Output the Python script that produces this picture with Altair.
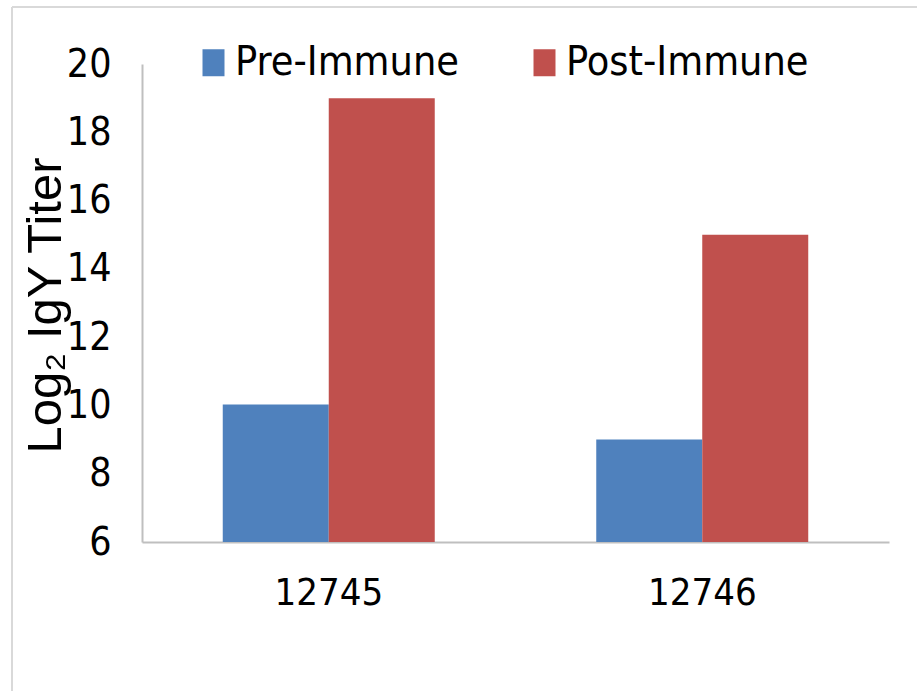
import altair as alt
import pandas as pd

# Log2 IgY titers per bird, before and after immunisation
samples = ["12745", "12746"]
phases = ["Pre-Immune", "Post-Immune"]
pre_titer = [10.03, 9.0]
post_titer = [19.0, 15.0]
colors = ["#4F81BD", "#C0504D"]

rows = []
for s, pre, post in zip(samples, pre_titer, post_titer):
    rows.append({"sample": s, "phase": phases[0], "titer": pre})
    rows.append({"sample": s, "phase": phases[1], "titer": post})
df = pd.DataFrame(rows)

NARROW = "DejaVu Sans Condensed, Liberation Sans Narrow, sans-serif"
W, H = 747, 478

# slightly tall rectangle used as legend swatch
SWATCH = "M-1,-1.227L1,-1.227L1,1.227L-1,1.227Z"

bars = alt.Chart(df).mark_bar(clip=True).encode(
    x=alt.X(
        "sample:N",
        sort=samples,
        title=None,
        scale=alt.Scale(paddingInner=0.4324, paddingOuter=0.2162),
        axis=alt.Axis(
            labelAngle=0,
            labelFont=NARROW,
            labelFontSize=38,
            labelColor="black",
            labelBaseline="top",
            labelPadding=32,
            ticks=False,
            domainColor="#BFBFBF",
            domainWidth=2,
        ),
    ),
    xOffset=alt.XOffset("phase:N", sort=phases, scale=alt.Scale(paddingInner=0, paddingOuter=0)),
    y=alt.Y(
        "titer:Q",
        title="Log₂ IgY Titer",
        scale=alt.Scale(domain=[6, 20], zero=False, nice=False),
        axis=alt.Axis(
            values=[6, 8, 10, 12, 14, 16, 18, 20],
            grid=False,
            ticks=False,
            labelFont=NARROW,
            labelFontSize=39,
            labelColor="black",
            labelPadding=31,
            domainColor="#BFBFBF",
            domainWidth=2,
            titleFont="Liberation Sans, Arial, sans-serif",
            titleFontSize=49,
            titleFontWeight="normal",
            titleColor="black",
            titleAngle=270,
            titleAlign="center",
            titleBaseline="middle",
            titleX=-97,
            titleY=H / 2 + 2,
        ),
    ),
    y2=alt.datum(6),
    color=alt.Color(
        "phase:N",
        sort=phases,
        scale=alt.Scale(domain=phases, range=colors),
        legend=alt.Legend(
            title=None,
            orient="none",
            legendX=51,
            legendY=-22,
            direction="horizontal",
            symbolType=SWATCH,
            symbolSize=484,
            symbolStrokeWidth=0,
            labelFont=NARROW,
            labelFontSize=41,
            labelColor="black",
            labelOffset=1,
            labelLimit=400,
            columnPadding=65,
            padding=0,
        ),
    ),
)

# light frame around the chart (left and top edges)
frame_df = pd.DataFrame({"k": [0]})
frame_left = alt.Chart(frame_df).mark_rule(color="#D9D9D9", strokeWidth=2).encode(
    x=alt.value(-130), y=alt.value(-57), y2=alt.value(H + 200)
)
frame_top = alt.Chart(frame_df).mark_rule(color="#D9D9D9", strokeWidth=2).encode(
    x=alt.value(-130), x2=alt.value(W + 100), y=alt.value(-57)
)

chart = alt.layer(frame_left, frame_top, bars).properties(
    width=W,
    height=H,
    autosize=alt.AutoSizeParams(type="none"),
    padding={"left": 142, "top": 64, "right": 28, "bottom": 149},
    background="white",
).configure_view(stroke=None)

chart.save("out.html", embed_options={"renderer": "svg", "actions": False})
